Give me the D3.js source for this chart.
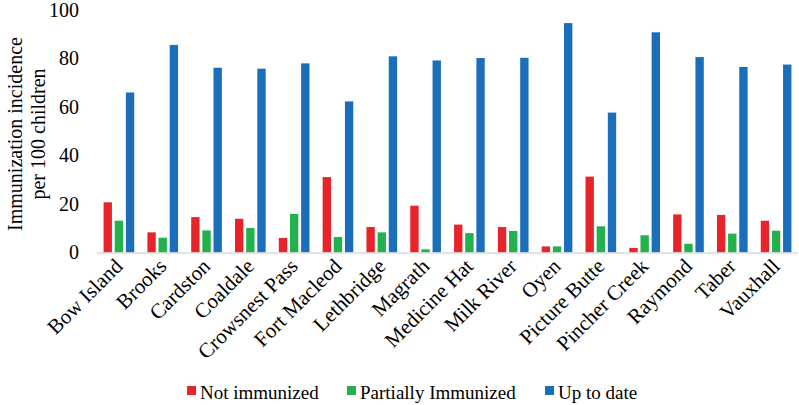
<!DOCTYPE html>
<html><head><meta charset="utf-8">
<script src="https://cdn.jsdelivr.net/npm/d3@7"></script>
<style>body{margin:0;background:#fff}svg{display:block}text{font-family:"Liberation Serif","Times New Roman",serif;fill:#000}</style>
</head><body><svg id="c" width="799" height="405"></svg>
<script>
const categories = ["Bow Island","Brooks","Cardston","Coaldale","Crowsnest Pass","Fort Macleod","Lethbridge","Magrath","Medicine Hat","Milk River","Oyen","Picture Butte","Pincher Creek","Raymond","Taber","Vauxhall"];
const seriesNames = ["Not immunized","Partially Immunized","Up to date"];
const notImmunized = [20.7,8.3,14.6,13.9,6.0,31.1,10.5,19.3,11.5,10.5,2.5,31.3,1.9,15.7,15.5,13.1];
const partiallyImmunized = [13.1,6.1,9.1,10.1,15.9,6.4,8.3,1.3,8.0,8.9,2.5,10.8,7.1,3.6,7.8,9.0];
const upToDate = [66.0,85.6,76.2,75.8,78.0,62.3,80.9,79.2,80.2,80.3,94.6,57.7,90.8,80.6,76.5,77.5];
const yTicks = [0,20,40,60,80,100];
const colors = ["#e8242b","#23b14d","#1b6fba"];

const series = [notImmunized, partiallyImmunized, upToDate];
const svg = d3.select("#c");
const m = {left:97, right:798, top:10, bottom:252.5};
const x = d3.scaleBand().domain(categories).range([m.left, m.right]).paddingInner(0.3).paddingOuter(0.15);
const xs = d3.scaleBand().domain(d3.range(3)).range([0, x.bandwidth()]).paddingInner(0.25);
const y = d3.scaleLinear().domain([0,100]).range([m.bottom, m.top]);

// bars
categories.forEach((c,i)=>{
  series.forEach((s,j)=>{
    svg.append("rect")
      .attr("x", x(c)+xs(j)).attr("width", xs.bandwidth())
      .attr("y", y(s[i])).attr("height", y(0)-y(s[i]))
      .attr("fill", colors[j]);
  });
});

// axis line
svg.append("line").attr("x1",m.left).attr("x2",m.right).attr("y1",y(0)+0.5).attr("y2",y(0)+0.5)
  .attr("stroke","#d9d9d9").attr("stroke-width",1.5);

// y ticks
const ya = svg.append("g").attr("transform",`translate(${m.left-18},0)`).call(d3.axisLeft(y).tickValues(yTicks).tickSize(0).tickPadding(0));
ya.select(".domain").remove();
ya.selectAll("text").style("font-family",'"Liberation Serif",serif').style("font-size","20px").attr("fill","#000");

// x labels
const xa = svg.append("g").attr("transform",`translate(0,${y(0)})`).call(d3.axisBottom(x).tickSize(0).tickPadding(0));
xa.select(".domain").remove();
xa.selectAll("text").style("font-family",'"Liberation Serif",serif').style("font-size","21px").attr("fill","#000")
  .attr("text-anchor","end").attr("dy","0").attr("y",0)
  .attr("transform","translate(5,15) rotate(-45)");

// y title
const yt = svg.append("text").attr("transform","translate(0,134) rotate(-90)").attr("text-anchor","middle").style("font-size","20px");
yt.append("tspan").attr("x",0).attr("y",22).text("Immunization incidence");
yt.append("tspan").attr("x",0).attr("y",45).text("per 100 children");

// legend
const legX = [187, 347, 545];
seriesNames.forEach((n,j)=>{
  const g = svg.append("g").attr("transform",`translate(${legX[j]},393)`);
  g.append("rect").attr("x",0).attr("y",-7).attr("width",9).attr("height",9).attr("fill",colors[j]);
  g.append("text").attr("x",13).attr("y",6).style("font-size","19px").text(n);
});
</script></body></html>
